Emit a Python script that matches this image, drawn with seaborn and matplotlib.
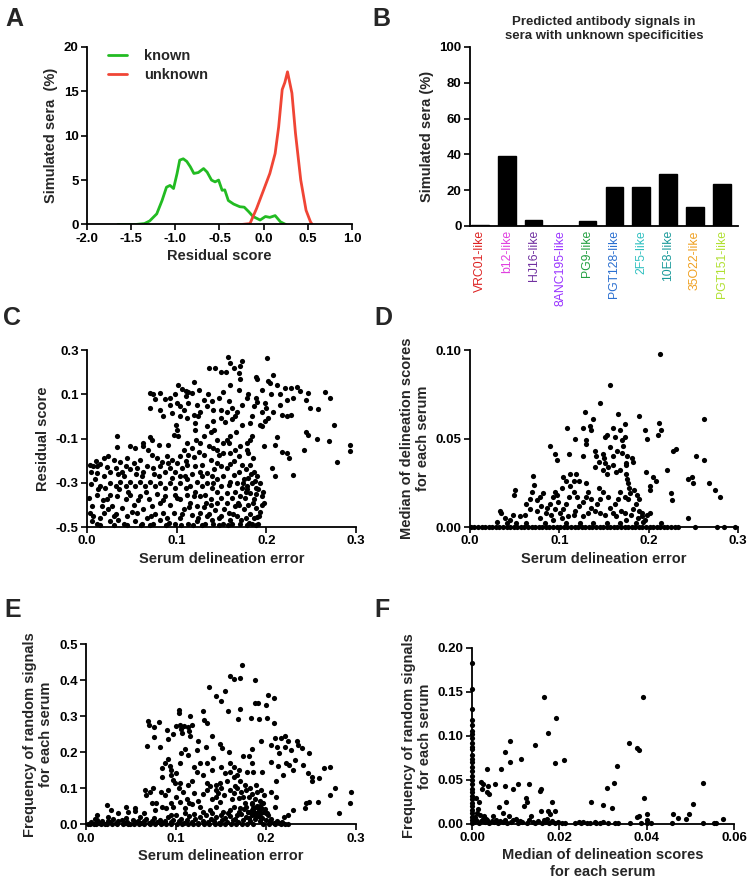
import pandas as pd
import seaborn as sns
import matplotlib.pyplot as plt
from matplotlib.ticker import FormatStrFormatter
from matplotlib.lines import Line2D

# Panel A : distribution des scores résiduels
known_x = [-1.65, -1.45, -1.35, -1.29, -1.21, -1.15, -1.10, -1.06, -1.02, -0.98, -0.95, -0.91,
           -0.87, -0.83, -0.79, -0.74, -0.68, -0.64, -0.59, -0.55, -0.51, -0.47, -0.44, -0.40,
           -0.34, -0.27, -0.22, -0.17, -0.12, -0.04, 0.02, 0.07, 0.13, 0.19, 0.25]
known_y = [0.0, 0.0, 0.1, 0.4, 1.2, 2.7, 4.2, 4.4, 4.05, 5.75, 7.25, 7.4,
           7.1, 6.5, 5.75, 5.85, 6.3, 5.9, 5.0, 4.8, 5.0, 3.85, 3.9, 2.7,
           2.3, 2.0, 1.95, 1.45, 0.9, 0.5, 0.9, 0.8, 1.0, 0.3, 0.0]
unknown_x = [-0.40, -0.25, -0.155, -0.08, 0.0, 0.07, 0.13, 0.17, 0.21, 0.24, 0.27, 0.32,
             0.36, 0.42, 0.48, 0.53, 0.55]
unknown_y = [0.0, 0.0, 0.1, 1.8, 3.9, 5.75, 8.0, 11.0, 15.2, 16.0, 17.2, 14.8,
             10.3, 5.0, 1.6, 0.3, 0.0]

# Panel B : signaux d'anticorps prédits
antibodies = ['VRC01-like', 'b12-like', 'HJ16-like', '8ANC195-like', 'PG9-like',
              'PGT128-like', '2F5-like', '10E8-like', '35O22-like', 'PGT151-like']
signal_pct = [0.5, 39, 3.5, 0, 3, 21.5, 22, 29, 10.5, 23.5]
label_colors = ['#dd2222', '#e040e0', '#7030a0', '#9933ff', '#22a040',
                '#2a6fd0', '#30c0c0', '#1a9a9a', '#f0a020', '#b0e030']

# Panel C : erreur de délinéation vs score résiduel
c_points = [
    (0.157, 0.27), (0.201, 0.262), (0.160, 0.24), (0.173, 0.25), (0.171, 0.23), (0.164, 0.22),
    (0.143, 0.22), (0.136, 0.22), (0.155, 0.20), (0.149, 0.20), (0.169, 0.195), (0.171, 0.17),
    (0.188, 0.18), (0.190, 0.17), (0.202, 0.16), (0.208, 0.185), (0.204, 0.15), (0.212, 0.14),
    (0.221, 0.13), (0.227, 0.13), (0.234, 0.135), (0.238, 0.115), (0.247, 0.105), (0.266, 0.11),
    (0.271, 0.085), (0.223, 0.075), (0.230, 0.085), (0.244, 0.075), (0.249, 0.04), (0.258, 0.035),
    (0.275, -0.04), (0.244, -0.07), (0.247, -0.085), (0.257, -0.10), (0.270, -0.11), (0.293, -0.13),
    (0.293, -0.155), (0.279, -0.205), (0.242, -0.15), (0.230, -0.265), (0.217, -0.16), (0.223, -0.165),
    (0.225, -0.19), (0.206, -0.235), (0.210, -0.27), (0.212, -0.095), (0.210, -0.13), (0.197, -0.135),
    (0.217, 0.008), (0.223, 0.003), (0.228, 0.008), (0.215, 0.05), (0.208, 0.02), (0.202, -0.008),
    (0.199, -0.02), (0.193, -0.04), (0.195, -0.045), (0.190, 0.065), (0.186, 0.045), (0.184, 0.0),
    (0.182, -0.03), (0.195, 0.02), (0.199, 0.06), (0.188, 0.085), (0.178, 0.085),
    (0.070, 0.105), (0.074, 0.10), (0.081, 0.105), (0.070, 0.04), (0.076, 0.08), (0.082, 0.03),
    (0.087, 0.08), (0.093, 0.085), (0.098, 0.10), (0.102, 0.14), (0.106, 0.125), (0.110, 0.115),
    (0.113, 0.11), (0.119, 0.155), (0.117, 0.105), (0.095, 0.015), (0.093, 0.05), (0.100, 0.06),
    (0.104, 0.045), (0.108, 0.03), (0.113, 0.06), (0.123, 0.05), (0.126, 0.02), (0.124, 0.0),
    (0.119, 0.008), (0.112, -0.008), (0.104, 0.0), (0.099, -0.04), (0.100, -0.06), (0.097, -0.085),
    (0.102, -0.09), (0.130, 0.075), (0.134, 0.045), (0.139, 0.07), (0.141, 0.03), (0.147, 0.085),
    (0.152, 0.11), (0.158, 0.07), (0.162, 0.04), (0.156, 0.02), (0.149, -0.008), (0.154, -0.025),
    (0.162, -0.01), (0.167, 0.02), (0.173, 0.05), (0.173, -0.04), (0.166, -0.07), (0.156, -0.105),
    (0.158, -0.12), (0.152, -0.12), (0.145, -0.105), (0.138, -0.07), (0.134, -0.045), (0.130, -0.09),
    (0.126, -0.12), (0.136, -0.135), (0.141, -0.145), (0.147, -0.175), (0.152, -0.165), (0.160, -0.165),
    (0.165, -0.15), (0.171, -0.135), (0.178, -0.15), (0.182, -0.105), (0.184, -0.09), (0.180, -0.165),
    (0.122, -0.105), (0.117, -0.145), (0.108, -0.15), (0.113, -0.175), (0.104, -0.18), (0.119, -0.185),
    (0.130, -0.175), (0.138, -0.195), (0.145, -0.21), (0.156, -0.235), (0.150, -0.225), (0.164, -0.20),
    (0.173, -0.22), (0.177, -0.24), (0.182, -0.22), (0.186, -0.25), (0.190, -0.27), (0.193, -0.30),
    (0.191, -0.33), (0.195, -0.36), (0.197, -0.39), (0.186, -0.375), (0.182, -0.345), (0.178, -0.315),
    (0.175, -0.285), (0.180, -0.28), (0.184, -0.30), (0.188, -0.325), (0.177, -0.34), (0.173, -0.325),
    (0.171, -0.36), (0.165, -0.34), (0.167, -0.30), (0.160, -0.295), (0.164, -0.265), (0.169, -0.25),
    (0.152, -0.27), (0.145, -0.285), (0.139, -0.27), (0.134, -0.255), (0.126, -0.25), (0.121, -0.225),
    (0.112, -0.22), (0.106, -0.235), (0.100, -0.21), (0.095, -0.195), (0.089, -0.18), (0.084, -0.205),
    (0.078, -0.19), (0.072, -0.175), (0.068, -0.15), (0.063, -0.135), (0.072, -0.105), (0.070, -0.095),
    (0.063, -0.12), (0.054, -0.145), (0.048, -0.135), (0.033, -0.09), (0.033, -0.14), (0.019, -0.19),
    (0.024, -0.18), (0.030, -0.195), (0.007, -0.225), (0.011, -0.225), (0.015, -0.215), (0.037, -0.205),
    (0.045, -0.19), (0.052, -0.21), (0.059, -0.195), (0.004, -0.305), (0.009, -0.285), (0.011, -0.255),
    (0.019, -0.27), (0.026, -0.25), (0.032, -0.235), (0.039, -0.25), (0.043, -0.225), (0.048, -0.24),
    (0.056, -0.235), (0.063, -0.25), (0.067, -0.225), (0.074, -0.235), (0.082, -0.225), (0.087, -0.25),
    (0.093, -0.235), (0.098, -0.25), (0.104, -0.27), (0.112, -0.285), (0.117, -0.26), (0.123, -0.295),
    (0.128, -0.315), (0.134, -0.30), (0.139, -0.325), (0.145, -0.34), (0.150, -0.315), (0.156, -0.345),
    (0.162, -0.37), (0.156, -0.39), (0.150, -0.37), (0.145, -0.39), (0.138, -0.375), (0.132, -0.355),
    (0.126, -0.36), (0.121, -0.34), (0.115, -0.315), (0.110, -0.325), (0.104, -0.30), (0.098, -0.325),
    (0.093, -0.30), (0.087, -0.325), (0.082, -0.30), (0.076, -0.315), (0.070, -0.295), (0.065, -0.315),
    (0.059, -0.295), (0.054, -0.315), (0.048, -0.295), (0.043, -0.315), (0.037, -0.295), (0.032, -0.315),
    (0.026, -0.30), (0.020, -0.325), (0.015, -0.315),
    (0.002, -0.37), (0.006, -0.405), (0.003, -0.435), (0.007, -0.45), (0.006, -0.475), (0.011, -0.485),
    (0.015, -0.46), (0.019, -0.435), (0.017, -0.405), (0.022, -0.375), (0.026, -0.355), (0.028, -0.405),
    (0.032, -0.44), (0.035, -0.47), (0.026, -0.475), (0.041, -0.485), (0.045, -0.45), (0.039, -0.415),
    (0.043, -0.375), (0.048, -0.355), (0.052, -0.40), (0.056, -0.435), (0.054, -0.475), (0.061, -0.485),
    (0.067, -0.46), (0.063, -0.42), (0.069, -0.375), (0.072, -0.405), (0.076, -0.44), (0.074, -0.485),
    (0.082, -0.47), (0.085, -0.435), (0.082, -0.39), (0.087, -0.36), (0.093, -0.40), (0.097, -0.435),
    (0.091, -0.48), (0.098, -0.485), (0.104, -0.46), (0.108, -0.42), (0.104, -0.375), (0.112, -0.355),
    (0.115, -0.39), (0.117, -0.445), (0.113, -0.485), (0.123, -0.475), (0.126, -0.435), (0.123, -0.405),
    (0.130, -0.41), (0.134, -0.45), (0.132, -0.485), (0.139, -0.47), (0.143, -0.425), (0.141, -0.485),
    (0.149, -0.45), (0.152, -0.485), (0.158, -0.435), (0.160, -0.47), (0.165, -0.405), (0.167, -0.45),
    (0.171, -0.485), (0.175, -0.42), (0.177, -0.46), (0.180, -0.40), (0.182, -0.44), (0.184, -0.485),
    (0.188, -0.415), (0.190, -0.455), (0.191, -0.485), (0.193, -0.43), (0.195, -0.40), (0.186, -0.46),
    (0.162, -0.485), (0.138, -0.40), (0.098, -0.355), (0.059, -0.36), (0.033, -0.36), (0.011, -0.355),
    (0.005, -0.25), (0.012, -0.33), (0.018, -0.38), (0.024, -0.42), (0.030, -0.45), (0.036, -0.33),
    (0.041, -0.27), (0.046, -0.34), (0.050, -0.43), (0.057, -0.38), (0.061, -0.27), (0.066, -0.34),
    (0.071, -0.45), (0.078, -0.35), (0.080, -0.27), (0.085, -0.38), (0.089, -0.46), (0.095, -0.28),
    (0.100, -0.37), (0.106, -0.44), (0.109, -0.27), (0.114, -0.41), (0.119, -0.36), (0.124, -0.46),
    (0.128, -0.27), (0.133, -0.39), (0.136, -0.44), (0.141, -0.30), (0.147, -0.46), (0.153, -0.42),
    (0.158, -0.31), (0.163, -0.44), (0.168, -0.39), (0.172, -0.47), (0.176, -0.37), (0.179, -0.33),
    (0.183, -0.26), (0.187, -0.29), (0.189, -0.35), (0.192, -0.45), (0.196, -0.34), (0.185, -0.39),
    (0.181, -0.48), (0.174, -0.30), (0.170, -0.40), (0.015, -0.49), (0.030, -0.49), (0.045, -0.49),
    (0.060, -0.49), (0.070, -0.49), (0.088, -0.49), (0.105, -0.49), (0.118, -0.49), (0.128, -0.49),
    (0.147, -0.49), (0.157, -0.49), (0.178, -0.49), (0.188, -0.49),
    (0.003, -0.22), (0.010, -0.20), (0.022, -0.23), (0.035, -0.26), (0.055, -0.26), (0.075, -0.26),
    (0.090, -0.21), (0.110, -0.20), (0.128, -0.22), (0.142, -0.24), (0.160, -0.215), (0.170, -0.18),
    (0.185, -0.19), (0.178, -0.12), (0.160, -0.09), (0.142, -0.06), (0.120, -0.06), (0.112, -0.12),
    (0.090, -0.13), (0.125, -0.16), (0.145, -0.15), (0.150, 0.03), (0.135, 0.10), (0.125, 0.12),
    (0.110, 0.09), (0.160, 0.14), (0.170, 0.12), (0.180, 0.10), (0.195, 0.12), (0.205, 0.10),
    (0.215, 0.10), (0.200, 0.04), (0.165, 0.00), (0.140, -0.02), (0.120, -0.03), (0.085, 0.00),
    (0.080, -0.13),
]

# Panel D : erreur de délinéation vs médiane des scores
d_points = [
    (0.213, 0.098), (0.157, 0.080), (0.146, 0.070), (0.129, 0.065), (0.166, 0.064), (0.189, 0.063),
    (0.138, 0.061), (0.212, 0.059), (0.262, 0.061), (0.109, 0.056), (0.127, 0.056), (0.134, 0.057),
    (0.135, 0.055), (0.160, 0.056), (0.168, 0.055), (0.173, 0.058), (0.173, 0.051), (0.196, 0.055),
    (0.198, 0.050), (0.214, 0.055), (0.211, 0.052), (0.153, 0.052), (0.151, 0.051), (0.162, 0.051),
    (0.118, 0.050), (0.130, 0.049), (0.130, 0.047), (0.157, 0.045), (0.170, 0.049), (0.171, 0.046),
    (0.090, 0.046), (0.227, 0.043), (0.231, 0.044), (0.253, 0.040), (0.262, 0.038), (0.095, 0.041),
    (0.097, 0.038), (0.111, 0.041), (0.126, 0.040), (0.140, 0.043), (0.141, 0.040), (0.149, 0.041),
    (0.150, 0.039), (0.160, 0.040), (0.160, 0.035), (0.165, 0.043), (0.170, 0.042), (0.176, 0.040),
    (0.181, 0.039), (0.183, 0.037), (0.175, 0.036), (0.151, 0.036), (0.144, 0.037), (0.140, 0.034),
    (0.149, 0.032), (0.155, 0.034), (0.153, 0.030), (0.164, 0.031), (0.168, 0.032), (0.175, 0.035),
    (0.175, 0.030), (0.176, 0.027), (0.177, 0.025), (0.178, 0.022), (0.179, 0.019), (0.177, 0.016),
    (0.197, 0.031), (0.220, 0.032), (0.205, 0.028), (0.208, 0.026), (0.201, 0.023), (0.201, 0.021),
    (0.225, 0.019), (0.226, 0.015), (0.244, 0.027), (0.249, 0.028), (0.250, 0.025), (0.268, 0.025),
    (0.274, 0.021), (0.280, 0.017), (0.244, 0.005), (0.070, 0.029), (0.072, 0.024), (0.069, 0.020),
    (0.067, 0.016), (0.075, 0.015), (0.078, 0.017), (0.082, 0.019), (0.080, 0.012), (0.086, 0.011),
    (0.090, 0.013), (0.093, 0.017), (0.095, 0.020), (0.097, 0.018), (0.099, 0.014), (0.095, 0.010),
    (0.101, 0.008), (0.091, 0.007), (0.085, 0.008), (0.104, 0.010), (0.107, 0.013), (0.111, 0.017),
    (0.112, 0.023), (0.116, 0.020), (0.120, 0.017), (0.122, 0.012), (0.118, 0.009), (0.127, 0.014),
    (0.130, 0.017), (0.132, 0.020), (0.130, 0.025), (0.122, 0.026), (0.116, 0.026), (0.108, 0.026),
    (0.103, 0.022), (0.104, 0.028), (0.112, 0.030), (0.119, 0.030), (0.136, 0.016), (0.136, 0.011),
    (0.140, 0.009), (0.142, 0.013), (0.146, 0.016), (0.149, 0.020), (0.144, 0.022), (0.155, 0.017),
    (0.157, 0.011), (0.160, 0.008), (0.162, 0.013), (0.166, 0.016), (0.168, 0.020), (0.173, 0.017),
    (0.184, 0.021), (0.187, 0.018), (0.189, 0.016), (0.186, 0.013), (0.182, 0.010), (0.189, 0.009),
    (0.193, 0.008), (0.198, 0.007), (0.202, 0.008), (0.180, 0.007), (0.173, 0.008), (0.169, 0.009),
    (0.164, 0.006), (0.151, 0.007), (0.146, 0.008), (0.132, 0.008), (0.127, 0.006), (0.116, 0.007),
    (0.110, 0.006), (0.103, 0.005), (0.093, 0.004), (0.078, 0.005), (0.075, 0.009), (0.067, 0.010),
    (0.063, 0.013), (0.062, 0.007), (0.056, 0.006), (0.050, 0.021), (0.049, 0.018), (0.048, 0.007),
    (0.045, 0.004), (0.039, 0.005), (0.034, 0.009), (0.035, 0.008), (0.030, 0.003), (0.041, 0.002),
    (0.052, 0.002), (0.063, 0.002), (0.084, 0.002), (0.108, 0.002), (0.123, 0.002), (0.138, 0.002),
    (0.153, 0.002), (0.168, 0.002), (0.186, 0.002), (0.194, 0.003), (0.214, 0.002), (0.188, 0.005),
    (0.192, 0.006), (0.196, 0.004), (0.175, 0.004),
]
# sérums dont la médiane est nulle (ligne sur l'axe)
d_zero_error = [0.001, 0.005, 0.009, 0.013, 0.017, 0.021, 0.025, 0.029, 0.033, 0.037, 0.041,
                0.045, 0.049, 0.053, 0.057, 0.061, 0.065, 0.069, 0.073, 0.077, 0.081, 0.085,
                0.089, 0.093, 0.097, 0.101, 0.105, 0.109, 0.113, 0.117, 0.121, 0.125, 0.129,
                0.133, 0.137, 0.141, 0.145, 0.149, 0.153, 0.157, 0.161, 0.165, 0.169, 0.173,
                0.177, 0.181, 0.185, 0.189, 0.193, 0.197, 0.201, 0.205, 0.209, 0.213, 0.217,
                0.221, 0.225, 0.229, 0.233, 0.252, 0.276, 0.284, 0.297]

# Panel E : erreur de délinéation vs fréquence des signaux aléatoires
e_points = [
    (0.173, 0.443), (0.160, 0.411), (0.164, 0.404), (0.171, 0.406), (0.188, 0.400), (0.137, 0.380),
    (0.145, 0.356), (0.150, 0.343), (0.155, 0.369), (0.202, 0.359), (0.209, 0.350), (0.158, 0.315),
    (0.171, 0.319), (0.169, 0.292), (0.188, 0.337), (0.191, 0.338), (0.200, 0.331), (0.183, 0.294),
    (0.192, 0.292), (0.201, 0.294), (0.209, 0.282), (0.103, 0.318), (0.103, 0.308), (0.130, 0.315),
    (0.131, 0.290), (0.134, 0.281), (0.116, 0.301), (0.069, 0.287), (0.070, 0.276), (0.076, 0.271),
    (0.081, 0.285), (0.100, 0.273), (0.104, 0.276), (0.109, 0.273), (0.113, 0.271), (0.118, 0.276),
    (0.106, 0.266), (0.107, 0.253), (0.097, 0.251), (0.091, 0.236), (0.090, 0.262), (0.082, 0.216),
    (0.076, 0.242), (0.068, 0.218), (0.115, 0.258), (0.116, 0.244), (0.140, 0.244), (0.149, 0.223),
    (0.151, 0.211), (0.159, 0.202), (0.141, 0.183), (0.134, 0.169), (0.123, 0.206), (0.133, 0.216),
    (0.113, 0.193), (0.106, 0.197), (0.091, 0.181), (0.093, 0.162), (0.088, 0.171), (0.084, 0.156),
    (0.100, 0.142), (0.097, 0.123), (0.094, 0.137), (0.099, 0.114), (0.103, 0.100), (0.091, 0.095),
    (0.088, 0.081), (0.083, 0.091), (0.071, 0.091), (0.066, 0.095), (0.067, 0.081), (0.073, 0.058),
    (0.077, 0.040), (0.078, 0.058), (0.104, 0.114), (0.113, 0.109), (0.118, 0.119), (0.123, 0.146),
    (0.127, 0.169), (0.130, 0.137), (0.134, 0.114), (0.138, 0.105), (0.144, 0.095), (0.147, 0.086),
    (0.144, 0.077), (0.149, 0.063), (0.144, 0.049), (0.149, 0.114), (0.155, 0.142), (0.160, 0.146),
    (0.164, 0.160), (0.168, 0.137), (0.171, 0.119), (0.166, 0.105), (0.164, 0.086), (0.170, 0.072),
    (0.177, 0.109), (0.181, 0.190), (0.184, 0.171), (0.179, 0.146), (0.186, 0.144), (0.189, 0.109),
    (0.196, 0.146), (0.194, 0.095), (0.198, 0.081), (0.206, 0.174), (0.206, 0.220), (0.212, 0.216),
    (0.217, 0.239), (0.221, 0.244), (0.225, 0.230), (0.221, 0.216), (0.210, 0.239), (0.215, 0.198),
    (0.213, 0.161), (0.211, 0.119), (0.219, 0.137), (0.222, 0.169), (0.226, 0.165), (0.230, 0.151),
    (0.232, 0.179), (0.228, 0.207), (0.234, 0.230), (0.236, 0.220), (0.240, 0.211), (0.248, 0.199),
    (0.241, 0.165), (0.247, 0.142), (0.251, 0.132), (0.251, 0.119), (0.259, 0.128), (0.265, 0.156),
    (0.271, 0.160), (0.277, 0.100), (0.271, 0.081), (0.281, 0.031), (0.294, 0.091), (0.293, 0.060),
    (0.258, 0.063), (0.245, 0.058), (0.248, 0.063), (0.243, 0.044), (0.230, 0.040), (0.225, 0.026),
    (0.220, 0.021), (0.210, 0.049), (0.206, 0.091), (0.211, 0.077), (0.114, 0.060), (0.120, 0.086),
    (0.110, 0.044), (0.104, 0.063), (0.097, 0.049), (0.089, 0.044), (0.084, 0.049), (0.064, 0.031),
    (0.054, 0.044), (0.045, 0.049), (0.023, 0.054), (0.028, 0.040), (0.047, 0.035), (0.054, 0.038),
    (0.012, 0.026), (0.036, 0.031), (0.127, 0.049), (0.130, 0.035), (0.138, 0.040), (0.152, 0.035),
    (0.160, 0.040), (0.164, 0.049), (0.171, 0.044), (0.177, 0.058), (0.181, 0.077), (0.184, 0.058),
    (0.186, 0.044), (0.190, 0.049), (0.192, 0.035), (0.195, 0.044), (0.184, 0.031), (0.180, 0.035),
    (0.188, 0.026), (0.193, 0.021), (0.201, 0.031),
    (0.095, 0.060), (0.100, 0.075), (0.108, 0.090), (0.112, 0.070), (0.118, 0.055), (0.125, 0.065),
    (0.130, 0.085), (0.135, 0.095), (0.140, 0.070), (0.145, 0.110), (0.150, 0.100), (0.153, 0.080),
    (0.157, 0.120), (0.160, 0.095), (0.162, 0.070), (0.165, 0.130), (0.168, 0.100), (0.172, 0.090),
    (0.175, 0.075), (0.178, 0.095), (0.182, 0.100), (0.185, 0.085), (0.188, 0.070), (0.190, 0.090),
    (0.193, 0.065), (0.197, 0.060), (0.120, 0.160), (0.140, 0.150), (0.150, 0.160), (0.160, 0.170),
    (0.170, 0.150), (0.175, 0.190), (0.185, 0.210), (0.195, 0.230), (0.085, 0.130), (0.095, 0.150),
    (0.105, 0.170), (0.110, 0.210), (0.125, 0.230), (0.075, 0.100),
    (0.002, 0.002), (0.006, 0.006), (0.009, 0.002), (0.012, 0.012), (0.015, 0.004), (0.018, 0.008),
    (0.021, 0.002), (0.024, 0.010), (0.027, 0.005), (0.030, 0.015), (0.033, 0.003), (0.036, 0.008),
    (0.040, 0.012), (0.043, 0.004), (0.046, 0.007), (0.049, 0.002), (0.052, 0.013), (0.055, 0.006),
    (0.058, 0.010), (0.061, 0.003), (0.064, 0.008), (0.067, 0.014), (0.070, 0.004), (0.073, 0.010),
    (0.076, 0.018), (0.079, 0.006), (0.082, 0.012), (0.085, 0.003), (0.088, 0.009), (0.091, 0.020),
    (0.094, 0.005), (0.097, 0.013), (0.100, 0.025), (0.103, 0.008), (0.106, 0.016), (0.109, 0.004),
    (0.112, 0.011), (0.115, 0.022), (0.118, 0.006), (0.121, 0.014), (0.124, 0.003), (0.127, 0.019),
    (0.130, 0.009), (0.133, 0.026), (0.136, 0.005), (0.139, 0.015), (0.142, 0.010), (0.145, 0.021),
    (0.148, 0.004), (0.151, 0.013), (0.154, 0.018), (0.157, 0.007), (0.160, 0.024), (0.163, 0.011),
    (0.166, 0.016), (0.169, 0.005), (0.172, 0.028), (0.175, 0.013), (0.178, 0.020), (0.180, 0.034),
    (0.182, 0.008), (0.184, 0.040), (0.185, 0.025), (0.187, 0.046), (0.188, 0.015), (0.189, 0.032),
    (0.190, 0.050), (0.191, 0.022), (0.192, 0.040), (0.193, 0.010), (0.194, 0.030), (0.195, 0.045),
    (0.196, 0.018), (0.198, 0.035), (0.200, 0.012), (0.202, 0.025), (0.204, 0.006), (0.206, 0.015),
    (0.209, 0.004), (0.212, 0.010), (0.215, 0.003), (0.218, 0.007), (0.221, 0.002),
    (0.004, 0.001), (0.011, 0.001), (0.017, 0.001), (0.023, 0.001), (0.029, 0.001), (0.035, 0.001),
    (0.041, 0.001), (0.047, 0.001), (0.053, 0.001), (0.059, 0.001), (0.065, 0.001), (0.071, 0.001),
    (0.077, 0.001), (0.083, 0.001), (0.089, 0.001), (0.095, 0.001), (0.101, 0.001), (0.107, 0.001),
    (0.113, 0.001), (0.119, 0.001), (0.125, 0.001), (0.131, 0.001), (0.137, 0.001), (0.143, 0.001),
    (0.149, 0.001), (0.155, 0.001), (0.161, 0.001), (0.167, 0.001), (0.173, 0.001), (0.179, 0.001),
    (0.186, 0.001), (0.197, 0.001), (0.203, 0.001), (0.210, 0.001), (0.217, 0.001), (0.224, 0.001),
    (0.170, 0.035), (0.176, 0.042), (0.183, 0.030), (0.186, 0.036), (0.199, 0.042), (0.190, 0.028),
    (0.181, 0.018), (0.168, 0.025), (0.158, 0.030), (0.150, 0.027), (0.140, 0.032), (0.120, 0.028),
    (0.110, 0.030), (0.095, 0.027), (0.060, 0.020), (0.045, 0.018), (0.025, 0.020), (0.010, 0.015),
    (0.200, 0.030), (0.185, 0.055), (0.193, 0.052), (0.178, 0.048),
]

# Panel F : médiane des scores vs fréquence des signaux aléatoires
f_points = [
    (0.0392, 0.144), (0.0165, 0.144), (0.0192, 0.121), (0.0174, 0.103), (0.0088, 0.094), (0.0144, 0.090),
    (0.0076, 0.082), (0.0087, 0.071), (0.0113, 0.0736), (0.0191, 0.069), (0.021, 0.0727), (0.0360, 0.0917),
    (0.0378, 0.086), (0.0383, 0.084), (0.0331, 0.066), (0.0326, 0.047), (0.0308, 0.0405), (0.0528, 0.047),
    (0.0394, 0.029), (0.0272, 0.0253), (0.0299, 0.0212), (0.032, 0.0178), (0.0506, 0.0224), (0.0497, 0.0114),
    (0.0461, 0.0114), (0.0472, 0.0065), (0.049, 0.0053), (0.0574, 0.006), (0.040, 0.0114), (0.0378, 0.0083),
    (0.0383, 0.009), (0.040, 0.005), (0.0034, 0.062), (0.0066, 0.063), (0.0021, 0.048), (0.0025, 0.046),
    (0.0023, 0.040), (0.0036, 0.043), (0.0035, 0.036), (0.0040, 0.034), (0.0053, 0.045), (0.0075, 0.043),
    (0.0077, 0.0245), (0.0062, 0.019), (0.0017, 0.0245), (0.0010, 0.030), (0.0014, 0.017), (0.0105, 0.045),
    (0.0130, 0.045), (0.0123, 0.030), (0.0126, 0.0245), (0.0094, 0.040), (0.0119, 0.021), (0.0158, 0.040),
    (0.0156, 0.038), (0.0184, 0.0245), (0.0191, 0.015), (0.0159, 0.015), (0.0134, 0.009), (0.0100, 0.006),
    (0.0085, 0.009), (0.0070, 0.012), (0.0047, 0.009), (0.0032, 0.006), (0.0175, 0.015), (0.0171, 0.006),
    (0.0164, 0.004), (0.0179, 0.011),
    (0.0205, 0.001), (0.0213, 0.001), (0.0236, 0.001), (0.0244, 0.002), (0.0249, 0.001), (0.0255, 0.002),
    (0.0263, 0.001), (0.0270, 0.001), (0.0281, 0.002), (0.0285, 0.001), (0.0293, 0.001), (0.0300, 0.002),
    (0.0311, 0.001), (0.0327, 0.001), (0.0334, 0.001), (0.0361, 0.001), (0.0388, 0.001), (0.0401, 0.001),
    (0.0411, 0.001), (0.0457, 0.001), (0.0528, 0.001), (0.0555, 0.001), (0.0559, 0.001),
    (0.0005, 0.002), (0.0010, 0.004), (0.0015, 0.001), (0.0020, 0.003), (0.0025, 0.006), (0.0030, 0.002),
    (0.0035, 0.004), (0.0040, 0.001), (0.0045, 0.003), (0.0050, 0.002), (0.0055, 0.005), (0.0060, 0.001),
    (0.0065, 0.003), (0.0070, 0.002), (0.0075, 0.004), (0.0080, 0.001), (0.0090, 0.002), (0.0095, 0.004),
    (0.0105, 0.001), (0.0110, 0.003), (0.0115, 0.002), (0.0125, 0.001), (0.0130, 0.004), (0.0140, 0.002),
    (0.0145, 0.001), (0.0150, 0.003), (0.0160, 0.001), (0.0168, 0.002), (0.0176, 0.001), (0.0183, 0.003),
    (0.0190, 0.001), (0.0198, 0.002), (0.0008, 0.008), (0.0018, 0.010), (0.0028, 0.009), (0.0012, 0.013),
]
# sérums avec une médiane nulle (colonne sur l'axe)
f_zero_freq = [0.183, 0.153, 0.131, 0.118, 0.112, 0.106, 0.102, 0.098, 0.092, 0.088, 0.085, 0.078,
               0.074, 0.070, 0.065, 0.060, 0.055, 0.050, 0.045, 0.040, 0.036, 0.032, 0.028, 0.024,
               0.020, 0.016, 0.012, 0.008, 0.004, 0.001]

sns.set_style('ticks')
plt.rcParams['font.family'] = ['Liberation Sans', 'DejaVu Sans']
plt.rcParams['font.weight'] = 'bold'
plt.rcParams['axes.labelweight'] = 'bold'
plt.rcParams['axes.unicode_minus'] = False

fig = plt.figure(figsize=(7.51, 8.81), dpi=100)


def style_axis(ax, xlabel, ylabel):
    sns.despine(ax=ax)
    for side in ['left', 'bottom']:
        ax.spines[side].set_linewidth(1.3)
        ax.spines[side].set_color('black')
    ax.tick_params(direction='out', length=4, width=1.2, labelsize=9.5, colors='black', pad=2)
    ax.set_xlabel(xlabel, fontsize=10.5, fontweight='bold', labelpad=3)
    ax.set_ylabel(ylabel, fontsize=10.5, fontweight='bold', labelpad=4)


def scatter(ax, x, y):
    sns.scatterplot(x=list(x), y=list(y), ax=ax, color='black', s=14, linewidth=0, clip_on=False)


# --- A ---
axA = fig.add_axes([0.1158, 0.7452, 0.3529, 0.2015])
dfA = pd.DataFrame({
    'score': known_x + unknown_x,
    'pct': known_y + unknown_y,
    'groupe': ['known'] * len(known_x) + ['unknown'] * len(unknown_x),
})
paletteA = {'known': '#22bb22', 'unknown': '#f04535'}
sns.lineplot(data=dfA, x='score', y='pct', hue='groupe', palette=paletteA, sort=False,
             linewidth=2, ax=axA, legend=False)
axA.set_xlim(-2.0, 1.0)
axA.set_ylim(0, 20)
axA.set_xticks([-2.0, -1.5, -1.0, -0.5, 0.0, 0.5, 1.0])
axA.set_yticks([0, 5, 10, 15, 20])
axA.xaxis.set_major_formatter(FormatStrFormatter('%.1f'))
style_axis(axA, 'Residual score', 'Simulated sera  (%)')
handles = [Line2D([0], [0], color=paletteA[k], lw=2) for k in ['known', 'unknown']]
axA.legend(handles, ['known', 'unknown'], loc='upper left', bbox_to_anchor=(0.03, 1.06),
           frameon=False, fontsize=10.5, handlelength=1.3, handletextpad=1.2, labelspacing=0.3)

# --- B ---
axB = fig.add_axes([0.6258, 0.7435, 0.3569, 0.2032])
sns.barplot(x=antibodies, y=signal_pct, color='black', width=0.65, ax=axB)
for p in axB.patches:
    p.set_facecolor('black')
    p.set_edgecolor('black')
axB.set_xlim(-0.37, 9.6)
axB.set_ylim(0, 100)
axB.set_yticks([0, 20, 40, 60, 80, 100])
style_axis(axB, '', 'Simulated sera (%)')
axB.tick_params(axis='x', length=0, pad=3)
axB.set_xticks(range(len(antibodies)))
axB.set_xticklabels(antibodies, rotation=90, fontsize=8.8, fontweight='normal')
for lbl, col in zip(axB.get_xticklabels(), label_colors):
    lbl.set_color(col)
axB.set_title('Predicted antibody signals in\nsera with unknown specificities',
              fontsize=9.5, fontweight='bold', pad=6)

# --- C ---
axC = fig.add_axes([0.1158, 0.4018, 0.3582, 0.2009])
c_x, c_y = zip(*c_points)
scatter(axC, c_x, c_y)
axC.set_xlim(0, 0.3)
axC.set_ylim(-0.5, 0.3)
axC.set_xticks([0.0, 0.1, 0.2, 0.3])
axC.set_yticks([-0.5, -0.3, -0.1, 0.1, 0.3])
axC.xaxis.set_major_formatter(FormatStrFormatter('%.1f'))
axC.yaxis.set_major_formatter(FormatStrFormatter('%.1f'))
style_axis(axC, 'Serum delineation error', 'Residual score')

# --- D ---
axD = fig.add_axes([0.6258, 0.4018, 0.3569, 0.2009])
d_x, d_y = zip(*d_points)
scatter(axD, list(d_x) + d_zero_error, list(d_y) + [0.0] * len(d_zero_error))
axD.set_xlim(0, 0.3)
axD.set_ylim(0, 0.10)
axD.set_xticks([0.0, 0.1, 0.2, 0.3])
axD.set_yticks([0.00, 0.05, 0.10])
axD.xaxis.set_major_formatter(FormatStrFormatter('%.1f'))
axD.yaxis.set_major_formatter(FormatStrFormatter('%.2f'))
style_axis(axD, 'Serum delineation error', 'Median of delineation scores\nfor each serum')

# --- E ---
axE = fig.add_axes([0.1145, 0.0644, 0.3595, 0.2043])
e_x, e_y = zip(*e_points)
scatter(axE, e_x, e_y)
axE.set_xlim(0, 0.3)
axE.set_ylim(0, 0.5)
axE.set_xticks([0.0, 0.1, 0.2, 0.3])
axE.set_yticks([0.0, 0.1, 0.2, 0.3, 0.4, 0.5])
axE.xaxis.set_major_formatter(FormatStrFormatter('%.1f'))
axE.yaxis.set_major_formatter(FormatStrFormatter('%.1f'))
style_axis(axE, 'Serum delineation error', 'Frequency of random signals\nfor each serum')

# --- F ---
axF = fig.add_axes([0.6285, 0.0647, 0.3489, 0.1998])
f_x, f_y = zip(*f_points)
scatter(axF, list(f_x) + [0.0] * len(f_zero_freq), list(f_y) + f_zero_freq)
axF.set_xlim(0, 0.06)
axF.set_ylim(0, 0.20)
axF.set_xticks([0.00, 0.02, 0.04, 0.06])
axF.set_yticks([0.00, 0.05, 0.10, 0.15, 0.20])
axF.xaxis.set_major_formatter(FormatStrFormatter('%.2f'))
axF.yaxis.set_major_formatter(FormatStrFormatter('%.2f'))
style_axis(axF, 'Median of delineation scores\nfor each serum', 'Frequency of random signals\nfor each serum')

# lettres des panneaux
for letter, (lx, ly) in {'A': (5, 7), 'B': (372, 7), 'C': (3, 306), 'D': (374, 306),
                         'E': (4, 598), 'F': (374, 598)}.items():
    fig.text(lx / 751, 1 - ly / 881, letter, fontsize=18, fontweight='bold', va='top', ha='left')

fig.savefig('out.png', dpi=100)
